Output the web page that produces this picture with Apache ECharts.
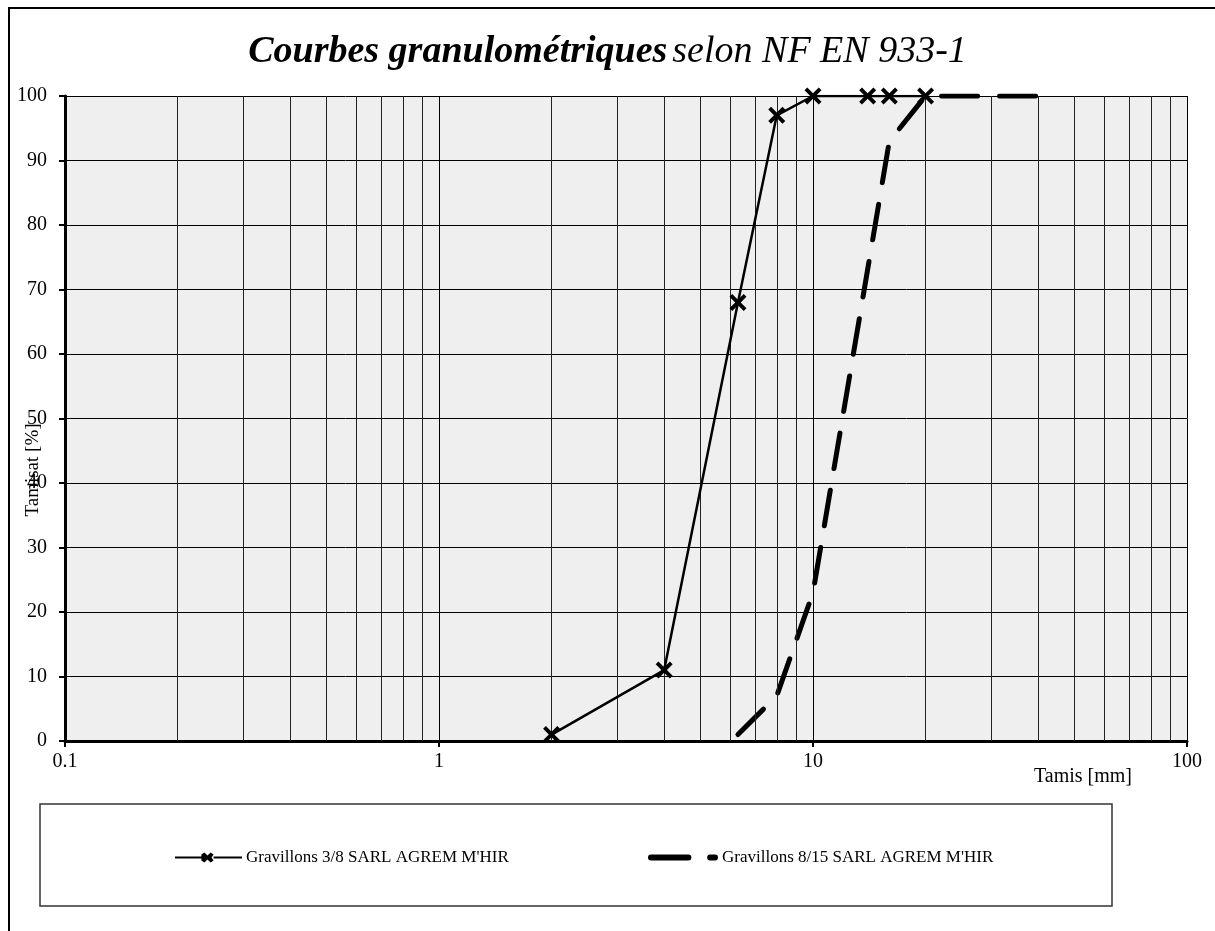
<!DOCTYPE html>
<html>
<head>
<meta charset="utf-8">
<script src="https://cdn.jsdelivr.net/npm/echarts@6/dist/echarts.min.js"></script>
<style>html,body{margin:0;padding:0;background:#fff;}#c{width:1215px;height:931px;}</style>
</head>
<body>
<div id="c"></div>
<script>
var titleMain = 'Courbes granulométriques';
var titleSub = 'selon NF EN 933-1';
var xName = 'Tamis [mm]';
var yName = 'Tamisat [%]';
var seriesNames = ["Gravillons 3/8 SARL AGREM M'HIR", "Gravillons 8/15 SARL AGREM M'HIR"];
var sieves1 = [2, 4, 6.3, 8, 10, 14, 16, 20];
var passing1 = [1, 11, 68, 97, 100, 100, 100, 100];
var sieves2 = [6.3, 8, 10, 16, 20, 40];
var passing2 = [1, 7, 23, 93, 100, 100];
var minorGrid = [0.2,0.3,0.4,0.5,0.6,0.7,0.8,0.9,2,3,4,5,6,7,8,9,20,30,40,50,60,70,80,90];

var FONT = '"Liberation Serif","Times New Roman",serif';
function pairs(xs, ys){ return xs.map(function(x,i){ return [x, ys[i]]; }); }
var crossPath = 'path://M0,2.6 L2.6,0 L8,5.4 L13.4,0 L16,2.6 L10.6,8 L16,13.4 L13.4,16 L8,10.6 L2.6,16 L0,13.4 L5.4,8 Z';
var legendLine1 = 'path://M0,6 L26,6 L26,4 L29,2 L32,5 L35,2 L38,4 L36,7 L38,10 L35,12 L32,9 L29,12 L26,10 L26,8 L0,8 Z M38,6 L66,6 L66,8 L38,8 Z';
var legendDash2 = 'path://M2,4 L40,4 A3,3 0 0 1 40,10 L2,10 A3,3 0 0 1 2,4 Z M62,4 L67,4 A3,3 0 0 1 67,10 L62,10 A3,3 0 0 1 62,4 Z';

var chart = echarts.init(document.getElementById('c'));
chart.setOption({
  animation: false,
  backgroundColor: '#fff',
  title: {
    text: '{b|' + titleMain + '} {i|' + titleSub + '}',
    left: 'center', top: 28,
    textStyle: { rich: {
      b: { fontFamily: FONT, fontSize: 38, fontWeight: 'bold', fontStyle: 'italic', color: '#000' },
      i: { fontFamily: FONT, fontSize: 38, fontWeight: 'normal', fontStyle: 'italic', color: '#000' }
    } }
  },
  grid: { left: 65, right: 28, top: 96, bottom: 190, show: true, backgroundColor: '#efefef', borderWidth: 0,
    containLabel: false, outerBoundsMode: 'none' },
  xAxis: {
    type: 'log', logBase: 10, min: 0.1, max: 100,
    axisLine: { lineStyle: { color: '#000', width: 3 } },
    axisTick: { show: true, length: 6, lineStyle: { color: '#000', width: 2 } },
    axisLabel: { color: '#000', fontFamily: FONT, fontSize: 20, margin: 11,
      formatter: function(v){ return String(v); } },
    splitLine: { show: true, lineStyle: { color: '#000', width: 1 } },
    minorTick: { show: false }, minorSplitLine: { show: false }
  },
  yAxis: {
    type: 'value', min: 0, max: 100, interval: 10,
    axisLine: { show: true, lineStyle: { color: '#000', width: 3 } },
    axisTick: { show: true, length: 6, lineStyle: { color: '#000', width: 2 } },
    axisLabel: { color: '#000', fontFamily: FONT, fontSize: 20, margin: 18 },
    splitLine: { show: true, lineStyle: { color: '#000', width: 1 } }
  },
  legend: [
    { data: [{ name: seriesNames[0], icon: legendLine1 }], left: 170, top: 844, itemWidth: 67, itemHeight: 14, itemGap: 0,
      textStyle: { fontFamily: FONT, fontSize: 17, color: '#000', padding: [0,0,0,-1] } },
    { data: [{ name: seriesNames[1], icon: legendDash2 }], left: 643, top: 844, itemWidth: 70, itemHeight: 14, itemGap: 0,
      textStyle: { fontFamily: FONT, fontSize: 17, color: '#000', padding: [0,0,0,-1] } }
  ],
  graphic: [
    { type: 'line', shape: { x1: 8, y1: 8, x2: 1215, y2: 8 }, style: { stroke: '#000', lineWidth: 2 }, z: 100 },
    { type: 'line', shape: { x1: 9, y1: 7, x2: 9, y2: 931 }, style: { stroke: '#000', lineWidth: 2 }, z: 100 },
    { type: 'rect', shape: { x: 40, y: 804, width: 1072, height: 102 }, style: { fill: '#fff', stroke: '#333', lineWidth: 1.5 }, z: -10 },
    { type: 'text', left: 1034, top: 767, style: { text: xName, fontFamily: FONT, fontSize: 20, fill: '#000' } },
    { type: 'text', x: 33, y: 470, rotation: Math.PI / 2, z: 50,
      style: { text: yName, fontFamily: FONT, fontSize: 19, fill: '#000', align: 'center', verticalAlign: 'middle' } }
  ],
  series: [
    { name: 'grid', type: 'line', data: [], silent: true, z: 1,
      markLine: { silent: true, symbol: ['none','none'], label: { show: false },
        lineStyle: { color: '#222', width: 1, type: 'solid' },
        data: minorGrid.map(function(v){ return { xAxis: v }; }) } },
    { name: seriesNames[0], type: 'line', data: pairs(sieves1, passing1), z: 5,
      symbol: crossPath, symbolSize: 17, showSymbol: true,
      itemStyle: { color: '#000' },
      lineStyle: { color: '#000', width: 2.5 } },
    { name: seriesNames[1], type: 'line', data: pairs(sieves2, passing2), z: 4,
      symbol: 'none', showSymbol: false,
      itemStyle: { color: '#000' },
      lineStyle: { color: '#000', width: 5, type: [36, 22], cap: 'round' } }
  ]
});
</script>
</body>
</html>
